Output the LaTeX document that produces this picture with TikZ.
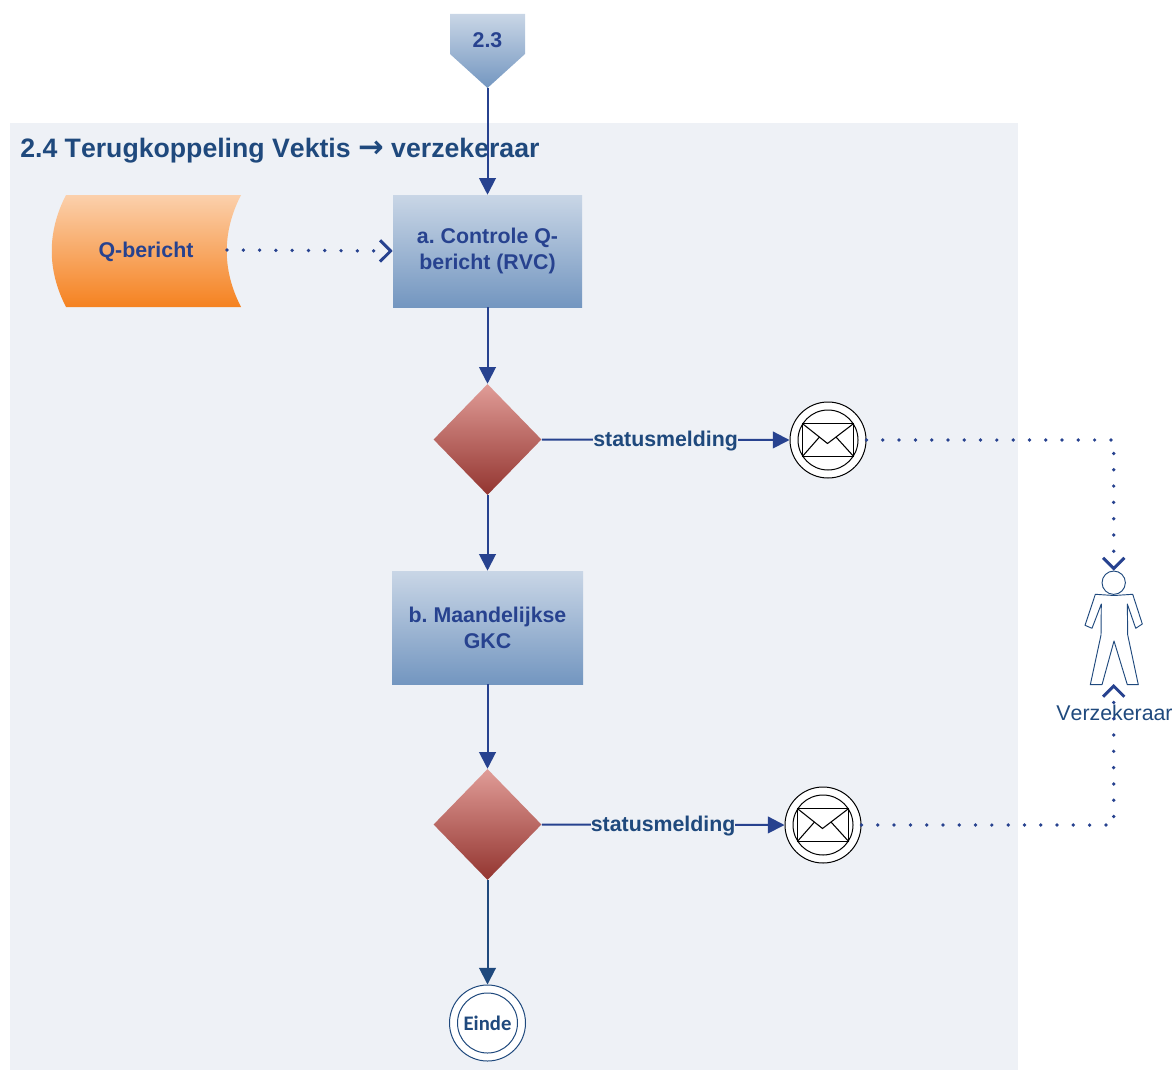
\documentclass[tikz,border=0pt]{standalone}
\usepackage{fontspec}
\setmainfont[Kerning=Off]{Liberation Sans}
\newfontfamily\eindefont{Carlito}
\newfontfamily\arrowfont{DejaVu Sans}
\usetikzlibrary{arrows.meta,shapes.geometric}

\definecolor{panelbg}{HTML}{EEF1F6}
\definecolor{flowblue}{HTML}{27428F}
\definecolor{textblue}{HTML}{1F497D}
\definecolor{boxtop}{HTML}{C9D6E6}
\definecolor{boxbottom}{HTML}{7396C0}
\definecolor{gwtop}{HTML}{E09C97}
\definecolor{gwbottom}{HTML}{933530}
\definecolor{qtop}{HTML}{FBD0AC}
\definecolor{qbottom}{HTML}{F58220}

\tikzset{
	boxtext/.style={font=\fontsize{16}{19.5}\selectfont\bfseries\frenchspacing, text=flowblue},
	task/.style={boxtext, rectangle, align=center, top color=boxtop, bottom color=boxbottom, inner sep=0pt},
	gateway/.style={diamond, inner sep=0pt, minimum width=81pt, minimum height=83.25pt, top color=gwtop, bottom color=gwbottom},
	flow/.style={-{Triangle[length=12.5pt,width=12.5pt]}, line width=1.5pt, flowblue},
	msgflow/.style={-{Straight Barb[length=8pt,width=16pt,line width=2.2pt]}, flowblue, line width=2.8pt, line cap=round, dash pattern=on 0pt off 12.22pt},
	flowlabel/.style={fill=panelbg, inner xsep=0pt, inner ysep=1pt, font=\fontsize{16}{19}\selectfont\bfseries, text=textblue},
	ring/.style={circle, draw, fill=white, inner sep=0pt, line width=0.75pt},
}

\begin{document}
\begin{tikzpicture}[x=0.75pt,y=-0.75pt]
	\useasboundingbox (0,0) rectangle (1173,1070);

	\fill[panelbg] (10,123) rectangle (1018,1070);
	\node[anchor=west, inner sep=0pt, font=\fontsize{20}{24}\selectfont\bfseries, text=textblue] (title) at (20,151) {2.4 Terugkoppeling Vektis {\arrowfont\fontsize{23}{24}\selectfont →} verzekeraar};

	% off-page reference
	\shade[top color=boxtop, bottom color=boxbottom] (450,14) -- (525,14) -- (525,54) -- (487.5,88) -- (450,54) -- cycle;
	\node[boxtext, inner sep=0pt] (ref) at (487.5,40.5) {2.3};
	\coordinate (reftip) at (487.5,88);

	% message store
	\shade[top color=qtop, bottom color=qbottom] (66,195) -- (241,195) .. controls (222,232) and (222,270) .. (241,307) -- (66,307) .. controls (47,270) and (47,232) .. (66,195) -- cycle;
	\node[boxtext, inner sep=0pt] (qmsg) at (146,251.5) {Q-bericht};
	\coordinate (qmsgright) at (227,250);

	\node[task, minimum width=141.75pt, minimum height=84pt] (boxA) at (487.5,251) {a. Controle Q-\\bericht (RVC)};
	\node[gateway] (gateA) at (487.5,439.5) {};
	\node[task, minimum width=143.25pt, minimum height=84.75pt] (boxB) at (487.5,627.5) {b. Maandelijkse\\GKC};
	\node[gateway] (gateB) at (487.5,824.5) {};

	% message events
	\foreach \name/\cx/\cy in {mailA/828/440,mailB/823/825}{
		\node[ring, minimum size=57pt] (\name) at (\cx,\cy) {};
		\node[ring, minimum size=45pt] (\name in) at (\cx,\cy) {};
		\begin{scope}[shift={(\cx,\cy)}, line width=0.8pt]
			\draw[fill=white, line width=1pt] (-25.7,-16.5) rectangle (25.7,16.5);
			\draw (-25.7,-16.5) -- (-0.5,3.5) -- (25.7,-16.5);
			\draw (-25.7,16.5) -- (-8.5,-3);
			\draw (25.7,16.5) -- (8,-3);
		\end{scope}
	}

	% end event
	\node[ring, draw=textblue, minimum size=57pt] (stop) at (487.5,1023) {};
	\node[ring, draw=textblue, minimum size=45pt, text=textblue, font=\eindefont\fontsize{15.5}{19}\selectfont\bfseries] (stop in) at (487.5,1023) {Einde};

	% participant
	\draw[textblue, fill=white, line width=0.7pt, line join=round] (1095.3,594.3) -- (1114,595.5) -- (1132.7,594.3) -- (1142.3,624) -- (1135.7,628.3) -- (1127.3,604) -- (1127.7,635) -- (1138.3,684.7) -- (1127.3,684.7) -- (1114,641) -- (1102,684.7) -- (1090.3,684.7) -- (1101,635) -- (1101.3,604) -- (1092,628.3) -- (1085,625.3) -- cycle;
	\node[circle, draw=textblue, fill=white, line width=0.7pt, inner sep=0pt, minimum size=17.5pt] (head) at (1113.7,582.7) {};
	\coordinate (foot) at (1113.7,684);
	\node[inner sep=0pt, font=\fontsize{16}{19}\selectfont, text=textblue] (actor) at (1114.5,713) {Verzekeraar};

	\draw[flow] (reftip) -- (boxA.north);
	\draw[flow] (boxA.south) -- (gateA.north);
	\draw[flow] (gateA.south) -- (boxB.north);
	\draw[flow] (boxB.south) -- (gateB.north);
	\draw[flow, textblue] (gateB.south) -- (stop.north);
	\draw[flow] (gateA.east) -- node[flowlabel, yshift=-0.7pt] (statusA) {statusmelding} (mailA.west);
	\draw[flow] (gateB.east) -- node[flowlabel, yshift=-0.7pt] (statusB) {statusmelding} (mailB.west);

	\draw[msgflow] (qmsgright) -- (boxA.west);
	\draw[msgflow] (mailA.east) -- (mailA.east -| head) -- (head.north);
	\draw[msgflow] (mailB.east) -- (mailB.east -| foot) -- (foot);
\end{tikzpicture}
\end{document}
